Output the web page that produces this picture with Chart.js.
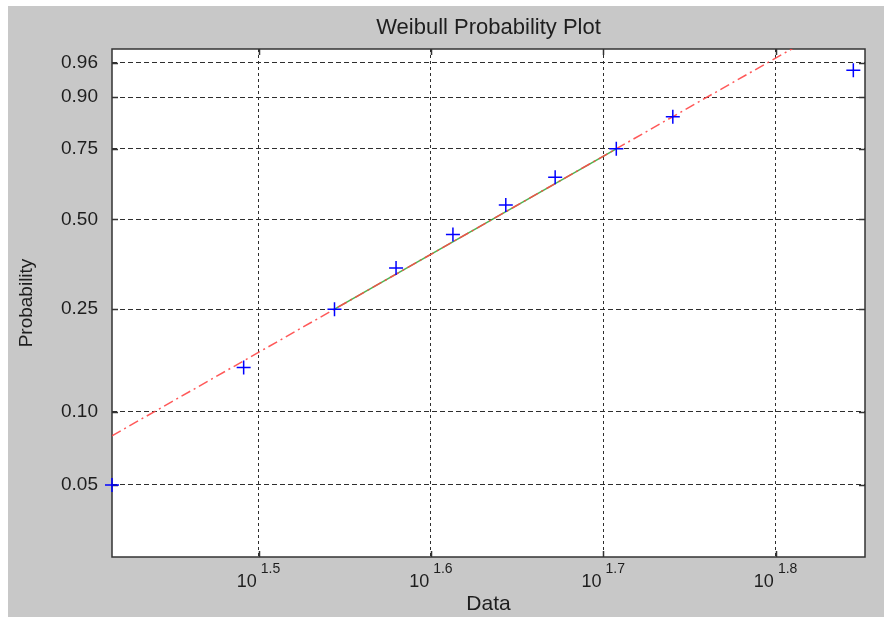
<!DOCTYPE html>
<html>
<head>
<meta charset="utf-8">
<title>Weibull Probability Plot</title>
<script src="https://cdn.jsdelivr.net/npm/chart.js@4.4.0/dist/chart.umd.min.js"></script>
<style>
  html, body { margin: 0; padding: 0; background: #ffffff; }
  canvas { display: block; }
</style>
</head>
<body>
<canvas id="chart" width="884" height="617"></canvas>
<script>
// sample values (sorted)
const dataValues = [26, 31, 35, 38, 41, 44, 47, 51, 55, 70];
// y ticks on the Weibull probability scale
const yTickProbs = [0.05, 0.10, 0.25, 0.50, 0.75, 0.90, 0.96];
// x ticks as powers of ten
const xTickExp = [1.5, 1.6, 1.7, 1.8];
// axis limits
const xRange = [26, 71.1];
const probRange = [0.025, 0.975];

const FONT = "'Liberation Sans', Arial, Helvetica, sans-serif";
const TEXT = "#1e1e1e";

// weibull transform: ln(-ln(1-p))
function wbl(p) {
  return Math.log(-Math.log(1 - p));
}

const n = dataValues.length;
const probs = dataValues.map((v, i) => (i + 0.5) / n);
const points = dataValues.map((v, i) => ({ x: v, y: wbl(probs[i]) }));

// reference line through the 25th and 75th percentiles
const q1 = dataValues[Math.round(0.25 * n + 0.5) - 1];
const q3 = dataValues[Math.round(0.75 * n + 0.5) - 1];
const z1 = wbl(0.25), z3 = wbl(0.75);
const slope = (z3 - z1) / (Math.log10(q3) - Math.log10(q1));
function refLine(x) {
  return z1 + (Math.log10(x) - Math.log10(q1)) * slope;
}

const boxPlugin = {
  id: "box",
  beforeDraw(chart) {
    const { ctx, chartArea: a } = chart;
    ctx.save();
    ctx.fillStyle = "#ffffff";
    ctx.fillRect(0, 0, chart.width, chart.height);
    ctx.fillStyle = "#c8c8c8";
    ctx.fillRect(8, 6, chart.width - 8, chart.height - 6);
    ctx.fillStyle = "#ffffff";
    ctx.fillRect(a.left, a.top, a.right - a.left, a.bottom - a.top);
    ctx.restore();
  },
  beforeDatasetsDraw(chart) {
    const { ctx, chartArea: a, scales } = chart;
    ctx.save();
    ctx.strokeStyle = "#333333";
    ctx.lineWidth = 1.5;
    ctx.beginPath();
    // inward tick marks
    scales.x.ticks.forEach(t => {
      const px = Math.round(scales.x.getPixelForValue(t.value)) + 0.5;
      ctx.moveTo(px, a.bottom); ctx.lineTo(px, a.bottom - 6);
      ctx.moveTo(px, a.top); ctx.lineTo(px, a.top + 6);
    });
    scales.y.ticks.forEach(t => {
      const py = Math.round(scales.y.getPixelForValue(t.value)) + 0.5;
      ctx.moveTo(a.left, py); ctx.lineTo(a.left + 6, py);
      ctx.moveTo(a.right, py); ctx.lineTo(a.right - 6, py);
    });
    ctx.stroke();
    ctx.strokeRect(a.left, a.top, a.right - a.left, a.bottom - a.top);
    ctx.restore();
  },
  afterDraw(chart) {
    // x tick labels as 10 with a superscript exponent
    const { ctx, chartArea: a, scales } = chart;
    ctx.save();
    ctx.fillStyle = TEXT;
    ctx.textBaseline = "alphabetic";
    ctx.textAlign = "left";
    scales.x.ticks.forEach((t, i) => {
      const px = scales.x.getPixelForValue(t.value);
      const sup = xTickExp[i].toFixed(1);
      ctx.font = "18px " + FONT;
      const wb = ctx.measureText("10").width;
      ctx.font = "14px " + FONT;
      const ws = ctx.measureText(sup).width;
      const left = px - (wb + 4 + ws) / 2;
      ctx.font = "18px " + FONT;
      ctx.fillText("10", left, a.bottom + 30);
      ctx.font = "14px " + FONT;
      ctx.fillText(sup, left + wb + 4, a.bottom + 16);
    });
    ctx.restore();
  }
};

new Chart(document.getElementById("chart"), {
  type: "scatter",
  data: {
    datasets: [
      {
        label: "Data",
        data: points,
        showLine: false,
        pointStyle: "cross",
        pointRadius: 7,
        pointHoverRadius: 7,
        pointBorderColor: "#0000ff",
        pointBorderWidth: 1.5,
        borderColor: "#0000ff",
        clip: false
      },
      {
        label: "Fit",
        data: [{ x: xRange[0], y: refLine(xRange[0]) }, { x: xRange[1], y: refLine(xRange[1]) }],
        showLine: true,
        pointRadius: 0,
        borderColor: "rgba(255,70,70,0.9)",
        borderWidth: 1.5,
        borderDash: [10, 4, 2, 4]
      },
      {
        label: "Quartiles",
        data: [{ x: q1, y: z1 }, { x: q3, y: z3 }],
        showLine: true,
        pointRadius: 0,
        borderColor: "rgba(60,170,60,0.9)",
        borderWidth: 1.5
      }
    ]
  },
  options: {
    responsive: false,
    animation: false,
    devicePixelRatio: 1,
    layout: { padding: { left: 0, right: 19, top: 0, bottom: 0 } },
    plugins: {
      legend: { display: false },
      tooltip: { enabled: false },
      title: {
        display: true,
        fullSize: false,
        text: "Weibull Probability Plot",
        color: TEXT,
        font: { family: FONT, size: 22, weight: "normal" },
        padding: { top: 15, bottom: 7.6 }
      }
    },
    scales: {
      x: {
        type: "logarithmic",
        min: xRange[0],
        max: xRange[1],
        afterBuildTicks: s => { s.ticks = xTickExp.map(e => ({ value: Math.pow(10, e) })); },
        afterFit: s => { s.height = 60; },
        ticks: { display: false },
        grid: { color: "#2e2e2e", lineWidth: 1, drawTicks: false },
        border: { display: false, dash: [3, 3] },
        title: {
          display: true,
          text: "Data",
          color: TEXT,
          font: { family: FONT, size: 21 },
          padding: { top: 0, bottom: 0 }
        }
      },
      y: {
        type: "linear",
        min: wbl(probRange[0]),
        max: wbl(probRange[1]),
        afterBuildTicks: s => { s.ticks = yTickProbs.map(p => ({ value: wbl(p) })); },
        afterFit: s => { s.width = 112; },
        ticks: {
          padding: 14,
          color: TEXT,
          font: { family: FONT, size: 19 },
          callback: (v, i) => yTickProbs[i].toFixed(2)
        },
        grid: { color: "#2e2e2e", lineWidth: 1, drawTicks: false },
        border: { display: false, dash: [5, 3] },
        title: {
          display: true,
          text: "Probability",
          color: TEXT,
          font: { family: FONT, size: 19 },
          padding: { top: 15, bottom: 0 }
        }
      }
    }
  },
  plugins: [boxPlugin]
});
</script>
</body>
</html>
